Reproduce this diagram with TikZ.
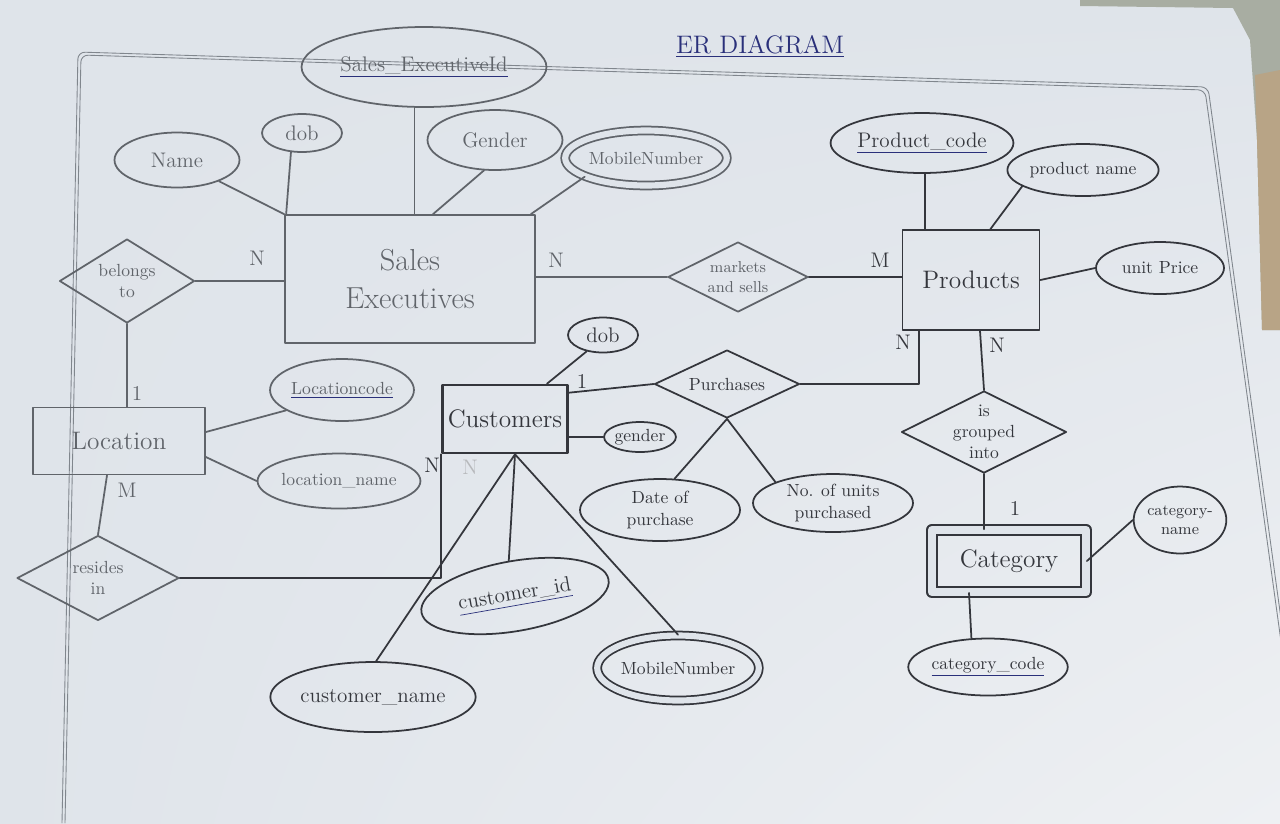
\documentclass[tikz,border=0pt]{standalone}
\usepackage{tikz}
\usetikzlibrary{shapes.geometric,calc,shadings}
\definecolor{paper}{RGB}{223,228,234}
\definecolor{paperlight}{RGB}{238,240,243}
\definecolor{pencil}{RGB}{96,100,106}
\definecolor{lead}{RGB}{52,54,60}
\definecolor{ink}{RGB}{42,48,122}
\definecolor{margin}{RGB}{128,134,141}
\definecolor{table}{RGB}{168,173,162}
\definecolor{wood}{RGB}{184,164,134}
% key attribute: blue underline below the pencil text
\newcommand{\ukey}[2][pencil]{{\color{ink}\underline{\color{#1}#2}}}
\tikzset{
  attr/.style={ellipse, draw, line width=1pt, inner sep=0pt, align=center, font=\large},
  multi/.style={attr, double=paper, double distance=3.5pt},
  entity/.style={rectangle, draw, line width=1pt, inner sep=0pt, align=center, font=\Large},
  weak/.style={entity, double=paper, double distance=5pt},
  rel/.style={diamond, draw, line width=1pt, inner sep=-6pt, aspect=2, align=center, font=\normalsize},
  card/.style={font=\large},
  conn/.style={line width=1pt}
}
\begin{document}
\begin{tikzpicture}[x=0.02cm,y=-0.02cm,line cap=round,line join=round]
\useasboundingbox (0,0) rectangle (1280,823);
\clip (0,0) rectangle (1280,823);
% paper and page margin
\shade[upper left=paper, upper right=paper, lower left=paper, lower right=paperlight] (0,0) rectangle (1280,823);
\fill[table] (1080,0) -- (1280,0) -- (1280,330) -- (1262,330) -- (1257,140) -- (1250,40) -- (1233,8) -- (1080,6) -- cycle;
\fill[wood] (1255,75) -- (1280,70) -- (1280,330) -- (1262,330) -- (1257,140) -- cycle;
\draw[margin, line width=0.5pt, rounded corners=4] (62,823) -- (78,52) -- (1208,87) -- (1309,823);
\draw[margin, line width=0.5pt, rounded corners=4] (65,823) -- (81,55) -- (1205,90) -- (1306,823);
% title
\node[text=ink, font=\Large] (title) at (760,46) {\underline{ER DIAGRAM}};

% sales executives
\begin{scope}[color=pencil]
\node[entity, minimum width=5cm, minimum height=2.56cm, font=\LARGE] (se) at (410,279) {Sales\\Executives};
\node[attr, minimum width=4.9cm, minimum height=1.6cm] (seid) at (424,67) {\ukey{Sales\_ExecutiveId}};
\node[attr, minimum width=2.5cm, minimum height=1.1cm] (name) at (177,160) {Name};
\node[attr, minimum width=1.6cm, minimum height=0.76cm] (sedob) at (302,133) {dob};
\node[attr, minimum width=2.7cm, minimum height=1.2cm] (gender) at (495,140) {Gender};
\node[multi, minimum width=3.1cm, minimum height=1.1cm, font=\normalsize] (semob) at (646,158) {MobileNumber};
\draw[conn] (name) -- (se.north west);
\draw[conn] (sedob.240) -- ($(se.north west)+(2,0)$);
\draw[conn] (seid.257) -- (seid.257 |- se.north);
\draw[conn] (gender.250) -- ($(se.north)+(23,0)$);
\draw[conn] (semob.197) -- ($(se.north east)+(-5,0)$);
% location
\node[rel, minimum width=2.7cm, minimum height=1.68cm] (belongs) at (127,281) {belongs\\to};
\node[entity, minimum width=3.44cm, minimum height=1.34cm] (loc) at (119,441) {Location};
\node[attr, minimum width=2.76cm, minimum height=1.24cm, font=\normalsize] (lcode) at (342,390) {\ukey{Locationcode}};
\node[attr, minimum width=2.84cm, minimum height=1.1cm, font=\normalsize] (lname) at (339,481) {location\_name};
\node[rel, minimum width=3.24cm, minimum height=1.7cm] (resides) at (98,578) {resides\\in};
\draw[conn] (belongs.east) -- (belongs.east -| se.west);
\draw[conn] (belongs.south) -- (belongs.south |- loc.north);
\draw[conn] ($(loc.east)+(0,-9)$) -- (lcode.200);
\draw[conn] ($(loc.east)+(0,16)$) -- (lname.west);
\draw[conn] ($(loc.south)+(-12,0)$) -- (resides.north);
% markets and sells
\node[rel, minimum width=2.8cm, minimum height=1.4cm, font=\small] (mk) at (738,277) {markets\\and sells};
\draw[conn] (se.east |- mk) -- (mk.west);
\node[card] (nBel) at (257,258) {N};
\node[card] (oneLoc) at (137,393) {1};
\node[card] (mLoc) at (127,490) {M};
\node[card] (nMk) at (556,260) {N};
\end{scope}

% customers and purchases
\begin{scope}[color=lead]
\node[entity, line width=1.5pt, minimum width=2.5cm, minimum height=1.36cm] (cust) at (505,419) {Customers};
\node[attr, minimum width=1.4cm, minimum height=0.7cm] (cdob) at (603,335) {dob};
\node[attr, minimum width=1.4cm, minimum height=0.6cm, font=\normalsize] (cgen) at (640,437) {gender};
\node[rel, minimum width=2.9cm, minimum height=1.36cm] (purch) at (727,384) {Purchases};
\node[attr, minimum width=3.2cm, minimum height=1.24cm, font=\normalsize] (dop) at (660,510) {Date of\\purchase};
\node[attr, minimum width=3.2cm, minimum height=1.16cm, font=\normalsize] (units) at (833,503) {No. of units\\purchased};
\node[attr, rotate=10, minimum width=3.8cm, minimum height=1.4cm] (cid) at (515,596) {\ukey[lead]{customer\_id}};
\node[attr, minimum width=3.96cm, minimum height=1.4cm] (cname) at (373,697) {customer\_name};
\node[multi, minimum width=3.1cm, minimum height=1.3cm, font=\normalsize] (cmob) at (678,668) {MobileNumber};
\coordinate (cb) at ($(cust.south)+(10,0)$);
\draw[conn] (cdob.225) -- ($(cust.north)+(42,0)$);
\draw[conn] (cust.east |- cgen) -- (cgen.west);
\draw[conn] ($(cust.north east)+(0,9)$) -- (purch.west);
\draw[conn] (purch.south) -- (dop.65);
\draw[conn] (purch.south) -- (units.160);
\draw[conn] (cb) -- (cname.85);
\draw[conn] (cb) -- (cid.north);
\draw[conn] (cb) -- (cmob.north);
\draw[conn] (resides.east) -- (resides.east -| cust.south west) -- (cust.south west);
\node[card] (oneCust) at (582,381) {1};
\node[card] (nRes) at (432,465) {N};
\node[card, text=pencil!45] (nResFaint) at (470,467) {N};
\end{scope}

% products and category
\begin{scope}[color=lead]
\node[entity, minimum width=2.74cm, minimum height=2cm] (prod) at (971,280) {Products};
\node[attr, minimum width=3.3cm, minimum height=1.2cm] (pcode) at (922,143) {\ukey[lead]{Product\_code}};
\node[attr, minimum width=2.8cm, minimum height=1.04cm, font=\normalsize] (pname) at (1083,170) {product name};
\node[attr, minimum width=2.56cm, minimum height=1.04cm, font=\normalsize] (uprice) at (1160,268) {unit Price};
\node[rel, minimum width=3.3cm, minimum height=1.64cm] (grp) at (984,432) {is\\grouped\\into};
\node[weak, minimum width=3.08cm, minimum height=1.24cm] (cat) at (1009,561) {Category};
\node[attr, minimum width=1.74cm, minimum height=1.34cm, font=\small] (catn) at (1180,520) {category-\\name};
\node[attr, minimum width=3.06cm, minimum height=1.14cm, font=\normalsize] (ccode) at (988,667) {\ukey[lead]{category\_code}};
\coordinate (pn) at ($(prod.south west)+(17,0)$);
\draw[conn] (mk.east) -- (mk.east -| prod.west);
\draw[conn] (purch.east) -- (purch.east -| pn) -- (pn);
\draw[conn] (pcode.-85) -- (pcode.-85 |- prod.north);
\draw[conn] (pname.195) -- ($(prod.north east)+(-50,0)$);
\draw[conn] (prod.east) -- (uprice.west);
\draw[conn] ($(prod.south)+(9,0)$) -- (grp.north);
\draw[conn] (grp.south) -- (grp.south |- cat.north);
\draw[conn] (cat.east) -- (catn.west);
\draw[conn] ($(cat.south)+(-40,0)$) -- (ccode.120);
\node[card] (mMk) at (880,260) {M};
\node[card] (nPur) at (903,342) {N};
\node[card] (nGrp) at (997,345) {N};
\node[card] (oneCat) at (1015,508) {1};
\end{scope}
\end{tikzpicture}
\end{document}
